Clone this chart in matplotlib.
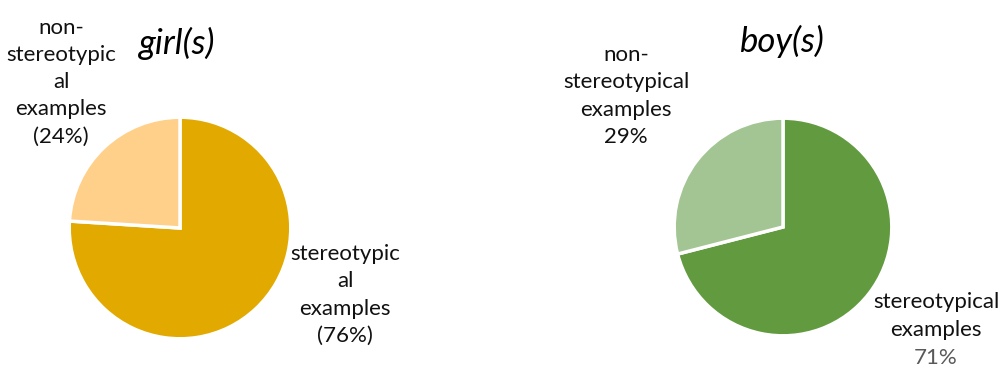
import matplotlib
matplotlib.use("Agg")
import matplotlib.pyplot as plt

W, H = 1002, 367
plt.rcParams['font.family'] = ['Lato', 'DejaVu Sans']

titles = ["girl(s)", "boy(s)"]
categories = ["stereotypical examples", "non-stereotypical examples"]
girl_values = [76, 24]
boy_values = [71, 29]
girl_colors = ["#E2AA00", "#FFD08A"]
boy_colors = ["#629B3F", "#A3C593"]

fig = plt.figure(figsize=(W / 100, H / 100), dpi=100)

def pie_axes(cx, cy, r):
    ax = fig.add_axes([(cx - r) / W, (H - cy - r) / H, 2 * r / W, 2 * r / H])
    return ax

for (cx, cy, r), vals, cols in [((180, 228, 113), girl_values, girl_colors),
                                ((783, 227, 111), boy_values, boy_colors)]:
    ax = pie_axes(cx, cy, r)
    ax.pie(vals, colors=cols, startangle=90, counterclock=False, radius=1,
           wedgeprops=dict(edgecolor="white", linewidth=2.5))
    ax.set_xlim(-1.02, 1.02)
    ax.set_ylim(-1.02, 1.02)
    ax.set_aspect("equal")
    ax.axis("off")

def ftext(x, y, s, **kw):
    fig.text(x / W, 1 - y / H, s, **kw)

fs = 16
ls = 1.45
ftext(177, 43, titles[0], fontsize=25, style="italic", ha="center", va="center")
ftext(782, 41, titles[1], fontsize=25, style="italic", ha="center", va="center")

ftext(61, 82, "non-\nstereotypic\nal\nexamples\n(24%)", fontsize=fs, ha="center",
      va="center", linespacing=ls, color="#111111")
ftext(345, 295, "stereotypic\nal\nexamples\n(76%)", fontsize=fs, ha="center",
      va="center", linespacing=ls, color="#111111")
ftext(626, 96, "non-\nstereotypical\nexamples\n29%", fontsize=fs, ha="center",
      va="center", linespacing=ls, color="#111111")
ftext(936, 316, "stereotypical\nexamples", fontsize=fs, ha="center",
      va="center", linespacing=ls, color="#111111")
ftext(936, 358, f"{boy_values[0]}%", fontsize=fs, ha="center",
      va="center", color="#595959")

fig.savefig("out.png", dpi=100)
